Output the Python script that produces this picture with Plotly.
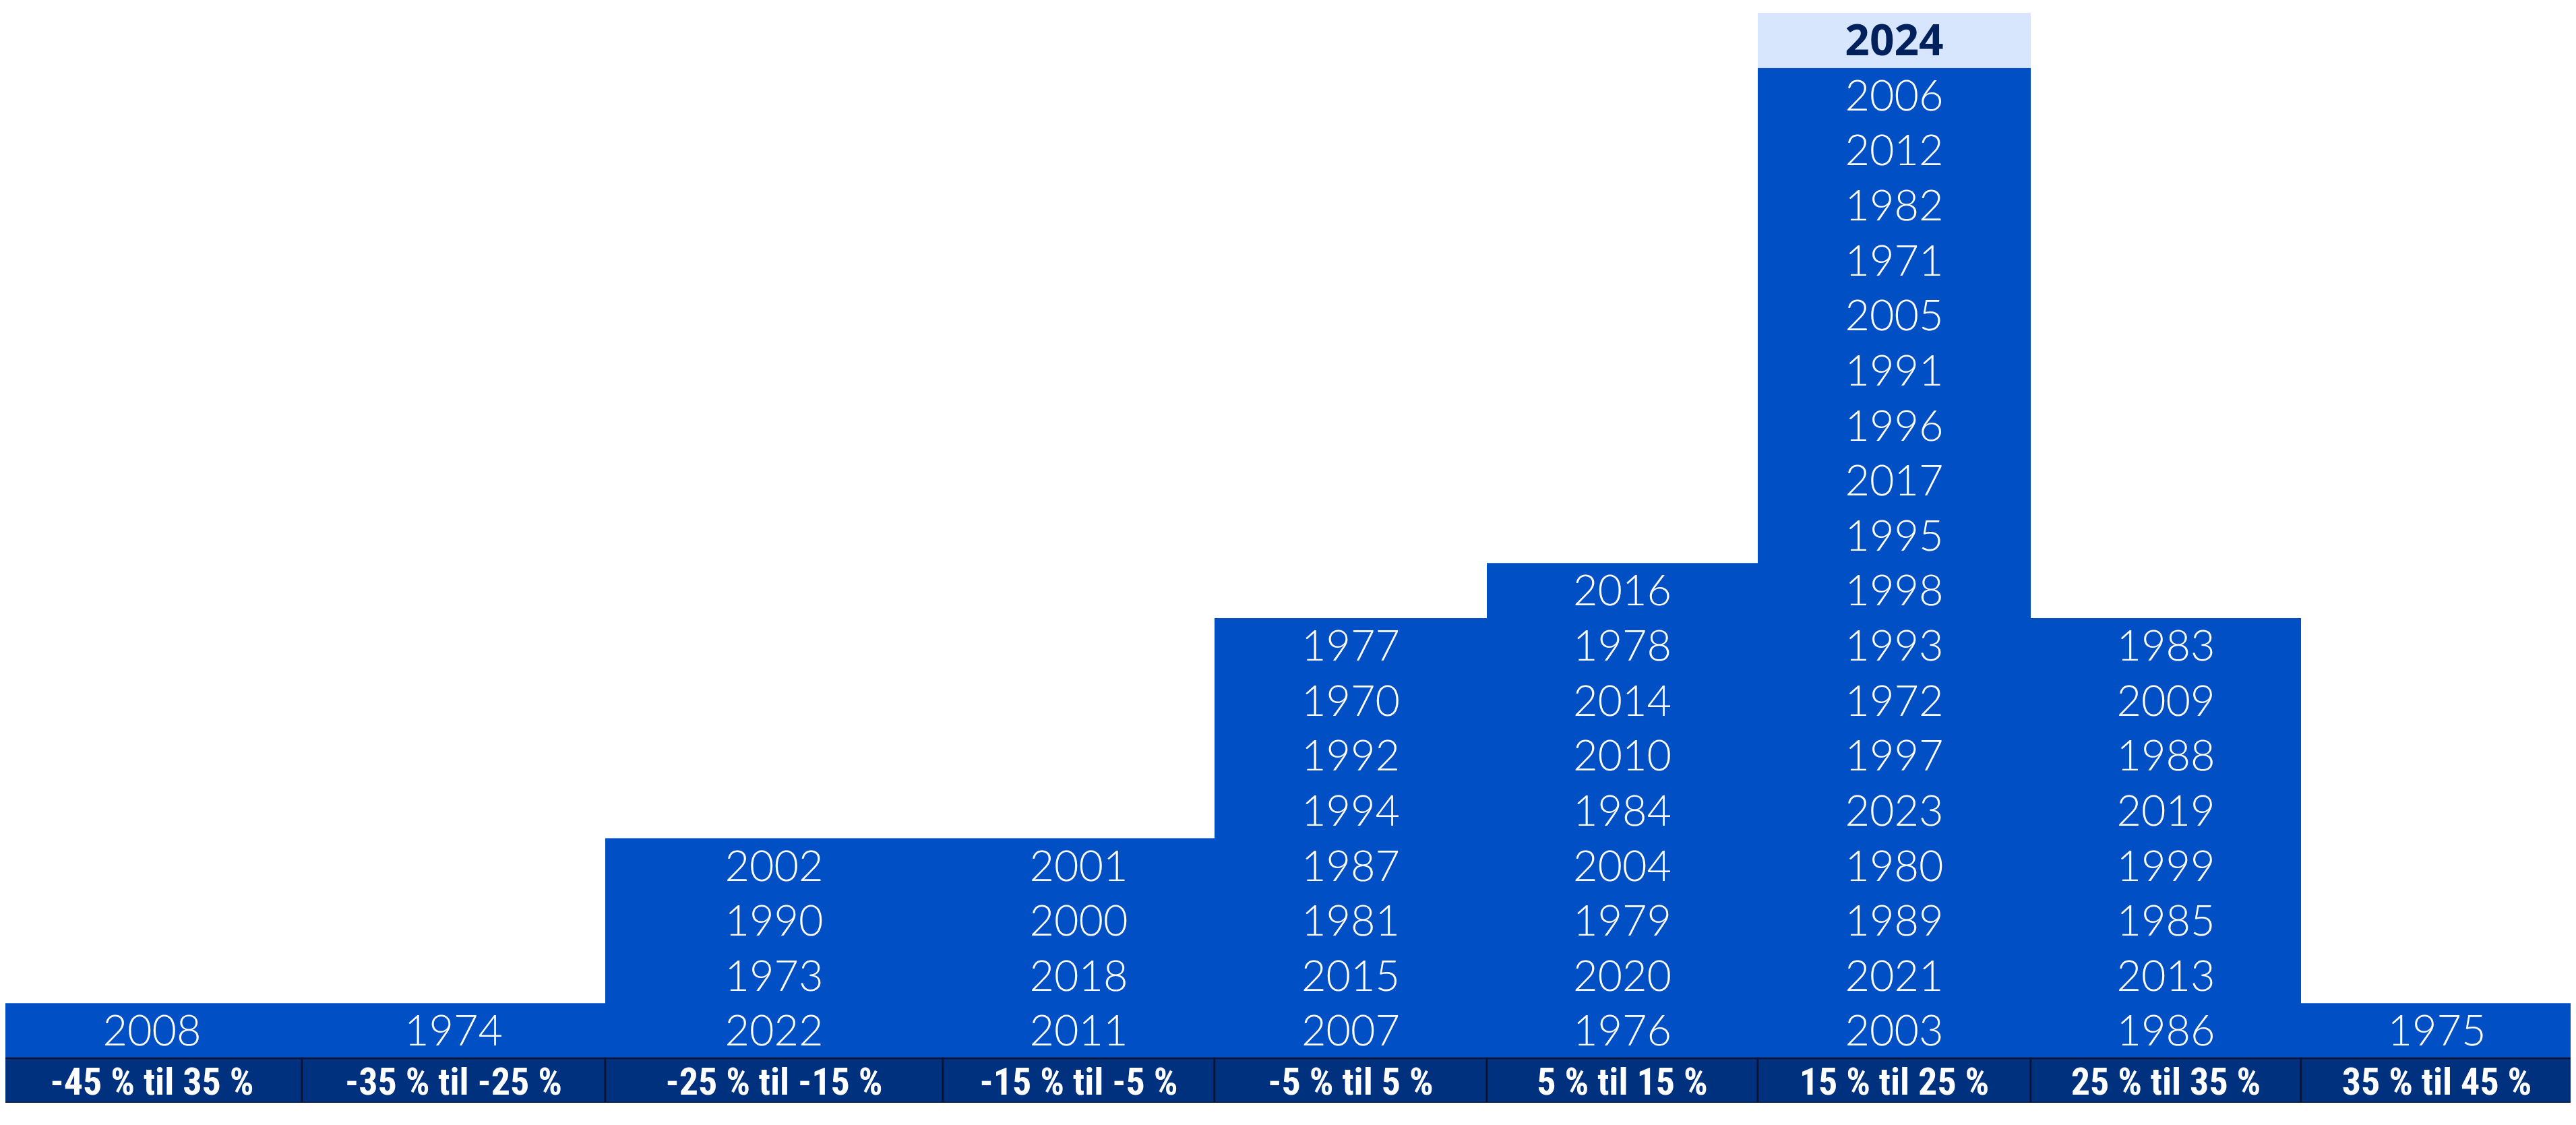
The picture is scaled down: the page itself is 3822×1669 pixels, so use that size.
import plotly.graph_objects as go

# ---------------- data ----------------
bin_labels = [
    "-45 % til 35 %", "-35 % til -25 %", "-25 % til -15 %", "-15 % til -5 %",
    "-5 % til 5 %", "5 % til 15 %", "15 % til 25 %", "25 % til 35 %", "35 % til 45 %",
]
# years listed top to bottom in each bin
years_bin1 = ["2008"]
years_bin2 = ["1974"]
years_bin3 = ["2002", "1990", "1973", "2022"]
years_bin4 = ["2001", "2000", "2018", "2011"]
years_bin5 = ["1977", "1970", "1992", "1994", "1987", "1981", "2015", "2007"]
years_bin6 = ["2016", "1978", "2014", "2010", "1984", "2004", "1979", "2020", "1976"]
years_bin7 = ["2024", "2006", "2012", "1982", "1971", "2005", "1991", "1996", "2017",
              "1995", "1998", "1993", "1972", "1997", "2023", "1980", "1989", "2021", "2003"]
years_bin8 = ["1983", "2009", "1988", "2019", "1999", "1985", "2013", "1986"]
years_bin9 = ["1975"]
highlight_year = "2024"

years_by_bin = [years_bin1, years_bin2, years_bin3, years_bin4, years_bin5,
                years_bin6, years_bin7, years_bin8, years_bin9]

# ---------------- layout geometry (page pixels) ----------------
W, H = 3822, 1669
BODY = 8  # default page body margin
col_edges = [3, 448, 898, 1399, 1802, 2206, 2608, 3013, 3414, 3817]
top_px, label_top_px, label_bot_px = 19, 1570, 1636
n_rows = max(len(y) for y in years_by_bin)
unit_px = (label_top_px - top_px) / n_rows
label_h = (label_bot_px - label_top_px) / unit_px
text_shift = 0.08  # visual centring of glyphs

BLUE = "#004FC4"
NAVY = "#00317F"
LIGHT = "#D7E5FD"
DARK_TEXT = "#00215B"

centers = [(a + b) / 2 for a, b in zip(col_edges[:-1], col_edges[1:])]
widths = [b - a for a, b in zip(col_edges[:-1], col_edges[1:])]

col_heights = []
cx, cy, ct = [], [], []
hx, hy, hb, hw, ht = [], [], [], [], []
for c, w, yrs in zip(centers, widths, years_by_bin):
    n = len(yrs)
    col_heights.append(sum(1 for yr in yrs if yr != highlight_year))
    for i, yr in enumerate(yrs):
        base = n - 1 - i
        if yr == highlight_year:
            hx.append(c); hw.append(w); hb.append(base); hy.append(base + 0.5 - text_shift); ht.append(yr)
        else:
            cx.append(c); cy.append(base + 0.5 - text_shift); ct.append(yr)

fig = go.Figure()

# column blocks (one continuous bar per bin)
fig.add_trace(go.Bar(
    x=centers, y=col_heights, base=[0] * len(centers), width=widths,
    marker=dict(color=BLUE, line=dict(width=0)), hoverinfo="skip",
))
# highlighted year cell
fig.add_trace(go.Bar(
    x=hx, y=[1] * len(hx), base=hb, width=hw,
    marker=dict(color=LIGHT, line=dict(width=0)), hoverinfo="skip",
))
# bin label row
fig.add_trace(go.Bar(
    x=centers, y=[label_h] * len(centers), base=[-label_h] * len(centers), width=widths,
    marker=dict(color=NAVY, line=dict(color="#0B1230", width=2.5)), hoverinfo="skip",
))

# year texts
fig.add_trace(go.Scatter(
    x=cx, y=cy, text=ct, mode="text", textposition="middle center",
    textfont=dict(family="Lato, Noto Sans", size=63, color="white", weight=300),
    hoverinfo="skip", cliponaxis=False,
))
fig.add_trace(go.Scatter(
    x=hx, y=hy, text=ht, mode="text", textposition="middle center",
    textfont=dict(family="Noto Sans, Lato", size=64, color=DARK_TEXT, weight=700),
    hoverinfo="skip", cliponaxis=False,
))
# bin label texts
fig.add_trace(go.Scatter(
    x=centers, y=[-label_h / 2 - text_shift] * len(centers), text=bin_labels, mode="text",
    textposition="middle center",
    textfont=dict(family="Liberation Sans Narrow, Roboto Condensed, Roboto",
                  size=56, color="white", weight=700),
    hoverinfo="skip", cliponaxis=False,
))

fig.update_layout(
    width=W - 2 * BODY, height=H - 2 * BODY, barmode="overlay", showlegend=False,
    plot_bgcolor="white", paper_bgcolor="white",
    margin=dict(l=0, r=0, t=top_px - BODY, b=BODY + (H - 2 * BODY) - label_bot_px, pad=0),
    xaxis=dict(range=[BODY, W - BODY], visible=False, fixedrange=True),
    yaxis=dict(range=[-label_h, n_rows], visible=False, fixedrange=True),
)

fig.write_html("out.html")
